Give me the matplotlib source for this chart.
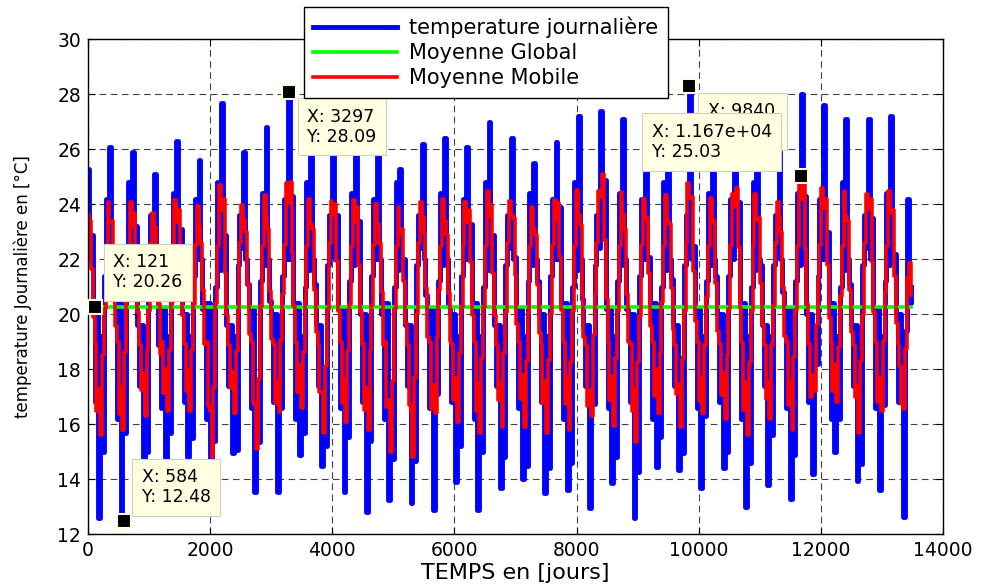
import numpy as np
import pandas as pd
import matplotlib
matplotlib.use("Agg")
import matplotlib.pyplot as plt

# temperature journaliere, one row per year, 12 values (approx. monthly)
temp_journaliere = [
    [25.3, 22.0, 22.9, 20.0, 16.8, 20.0, 12.6, 19.2, 15.0, 21.4, 24.2, 22.0],
    [26.1, 22.0, 22.1, 20.4, 16.2, 20.4, 12.48, 19.2, 15.7, 21.0, 24.8, 21.6],
    [25.9, 22.0, 23.2, 19.6, 17.4, 19.6, 14.7, 19.2, 15.0, 21.8, 23.6, 22.4],
    [25.1, 22.0, 18.9, 20.2, 16.6, 20.2, 14.6, 19.2, 15.7, 21.2, 24.4, 21.8],
    [26.3, 22.0, 23.1, 20.0, 16.8, 20.0, 14.8, 19.2, 15.5, 21.4, 24.2, 22.0],
    [25.6, 22.0, 20.2, 20.4, 16.2, 20.4, 13.4, 15.6, 15.4, 21.0, 24.8, 21.6],
    [27.7, 22.0, 22.9, 19.6, 17.4, 19.6, 14.95, 19.2, 15.05, 21.8, 23.6, 22.4],
    [25.9, 22.0, 21.1, 20.2, 16.6, 20.2, 13.55, 16.4, 15.35, 21.2, 24.4, 21.8],
    [26.8, 22.0, 20.5, 20.0, 16.8, 20.0, 13.55, 19.2, 16.6, 21.4, 24.2, 22.0],
    [28.09, 22.0, 24.3, 20.4, 16.2, 20.4, 14.9, 19.2, 15.7, 21.0, 24.8, 21.6],
    [26.2, 22.0, 21.1, 19.6, 17.4, 19.6, 14.5, 17.4, 15.2, 21.8, 23.6, 22.4],
    [26.4, 22.0, 23.6, 20.2, 16.6, 20.2, 13.55, 19.2, 15.55, 21.2, 24.4, 21.8],
    [26.3, 22.0, 23.4, 20.0, 16.8, 20.0, 12.8, 19.2, 15.4, 21.4, 24.2, 22.0],
    [25.8, 22.0, 20.0, 20.4, 16.2, 20.4, 13.25, 17.0, 14.75, 21.0, 24.8, 21.6],
    [25.3, 22.0, 22.0, 19.6, 17.4, 19.6, 13.15, 16.6, 14.65, 21.8, 23.6, 22.4],
    [26.2, 22.0, 20.7, 20.2, 16.6, 20.2, 12.9, 19.2, 17.1, 21.2, 24.4, 21.8],
    [26.4, 22.0, 20.3, 20.0, 16.8, 20.0, 13.9, 19.2, 15.2, 21.4, 24.2, 22.0],
    [26.1, 22.0, 23.3, 20.4, 16.2, 20.4, 12.9, 19.2, 15.0, 21.0, 24.8, 21.6],
    [27.0, 22.0, 22.9, 19.6, 17.4, 19.6, 13.7, 19.2, 14.8, 21.8, 23.6, 22.4],
    [26.4, 22.0, 22.1, 20.2, 16.6, 20.2, 14.0, 19.2, 14.5, 21.2, 24.4, 21.8],
    [25.5, 22.0, 21.2, 20.0, 16.8, 20.0, 13.5, 19.2, 14.4, 21.4, 24.2, 22.0],
    [26.25, 22.0, 23.9, 20.4, 16.2, 20.4, 13.6, 19.2, 14.6, 21.0, 24.8, 21.6],
    [27.2, 22.0, 20.55, 19.6, 17.4, 19.6, 12.95, 19.2, 16.75, 21.8, 23.6, 22.4],
    [27.4, 23.0, 24.9, 20.2, 16.6, 20.2, 13.85, 19.2, 14.8, 21.2, 24.4, 21.8],
    [27.1, 22.0, 20.2, 20.0, 16.8, 20.0, 12.6, 19.2, 14.25, 21.4, 24.2, 22.0],
    [26.4, 22.0, 22.1, 20.4, 16.2, 20.4, 14.45, 19.2, 15.55, 21.0, 24.8, 21.6],
    [26.6, 22.0, 21.3, 19.6, 17.4, 19.6, 14.35, 18.4, 14.95, 21.8, 23.6, 22.4],
    [28.3, 22.0, 22.5, 20.2, 16.6, 20.2, 13.7, 19.2, 16.3, 21.2, 24.4, 21.8],
    [26.5, 22.0, 21.4, 20.0, 16.8, 20.0, 14.4, 19.2, 15.0, 21.4, 24.2, 22.0],
    [26.9, 22.8, 24.1, 20.4, 16.2, 20.4, 13.0, 19.2, 14.6, 21.0, 24.8, 21.6],
    [26.7, 22.0, 21.8, 19.6, 17.4, 19.6, 13.8, 19.2, 15.6, 21.8, 23.6, 22.4],
    [26.2, 22.0, 20.8, 20.2, 16.6, 20.2, 13.3, 19.2, 14.9, 21.2, 24.4, 21.8],
    [28.0, 22.8, 24.3, 20.0, 16.8, 20.0, 14.2, 19.2, 18.2, 21.4, 24.2, 22.0],
    [27.6, 22.0, 23.0, 20.4, 16.2, 20.4, 15.0, 19.2, 16.2, 21.0, 24.8, 21.6],
    [27.1, 22.0, 21.1, 19.6, 17.4, 19.6, 13.95, 18.6, 14.55, 21.8, 23.6, 22.4],
    [27.1, 22.0, 23.5, 20.2, 16.6, 20.2, 13.6, 19.2, 16.7, 21.2, 24.4, 21.8],
    [27.2, 22.0, 22.2, 20.0, 16.8, 20.0, 17.6, 12.63, 19.4, 24.2, 20.4, 21.0],
]
pas_jours = 365.25 / 12

# data tips (MATLAB datatips)
tip_x = [121, 584, 3297, 9840, 11670]
tip_y = [20.26, 12.48, 28.09, 28.32, 25.03]
tip_txt = ["X: 121\nY: 20.26", "X: 584\nY: 12.48", "X: 3297\nY: 28.09",
           "X: 9840\nY: 28.32", "X: 1.167e+04\nY: 25.03"]

plt.rcParams['font.family'] = ['DejaVu Sans']

temp = np.array(temp_journaliere).ravel()
jours = np.arange(len(temp)) * pas_jours
moy_mobile = pd.Series(temp).rolling(3, center=True, min_periods=1).mean().values
moy_globale = np.round(temp.mean(), 2)
print("moyenne globale:", moy_globale)

fig = plt.figure(figsize=(9.85, 5.87), dpi=100)
ax = fig.add_axes([88/985, (587-534.3)/587, 855/985, 495/587])

l1, = ax.plot(jours, temp, color=(0, 0, 1), lw=3.5, drawstyle='steps-mid',
              label="temperature journalière")
l2, = ax.plot([jours[0], jours[-1]], [moy_globale, moy_globale], color=(0, 1, 0), lw=2.6,
              label="Moyenne Global")
l3, = ax.plot(jours, moy_mobile, color=(1, 0, 0), lw=2.6, drawstyle='steps-mid',
              label="Moyenne Mobile")

ax.set_xlim(0, 14000)
ax.set_ylim(12, 30)
ax.set_xticks(np.arange(0, 14001, 2000))
ax.set_yticks(np.arange(12, 31, 2))
ax.tick_params(direction='in', length=5, width=0.8, top=True, right=True,
               labelsize=13.5, pad=5)
ax.grid(True, color='0.25', linestyle=(0, (6, 4)), linewidth=0.8)
ax.set_axisbelow(True)
for s in ax.spines.values():
    s.set_linewidth(1.0)

ax.set_xlabel("TEMPS en [jours]", fontsize=16)
ax.xaxis.set_label_coords(0.5, -0.058)
ax.set_ylabel("temperature Journalière en [°C]", fontsize=12)
ax.yaxis.set_label_coords(-0.066, 0.5)

# datatips
offsets = [(18, 54), (18, 53), (18, -16), (19, -17), (-149, 53)]
ax.plot(tip_x, tip_y, 's', ms=9.5, mfc='k', mec='#ffffe1', mew=1.5,
        zorder=6, clip_on=False)
for x, y, t, off in zip(tip_x, tip_y, tip_txt, offsets):
    ax.annotate(t, xy=(x, y), xytext=off, textcoords='offset pixels',
                ha='left', va='top', fontsize=12.5, linespacing=1.15,
                bbox=dict(boxstyle='square,pad=0.55', fc='#ffffe1', ec='#cfcfc0', lw=0.8),
                zorder=7, annotation_clip=False)

leg = ax.legend(handles=[l1, l2, l3], loc='upper left',
                bbox_to_anchor=(304/985, 1-7/587), bbox_transform=fig.transFigure,
                borderaxespad=0, fontsize=15, handlelength=4.0, handletextpad=0.6,
                labelspacing=0.25, borderpad=0.45, fancybox=False, framealpha=1)
leg.get_frame().set_edgecolor('k')
leg.get_frame().set_linewidth(1.0)
leg.set_zorder(8)

fig.savefig("out.png", dpi=100)
